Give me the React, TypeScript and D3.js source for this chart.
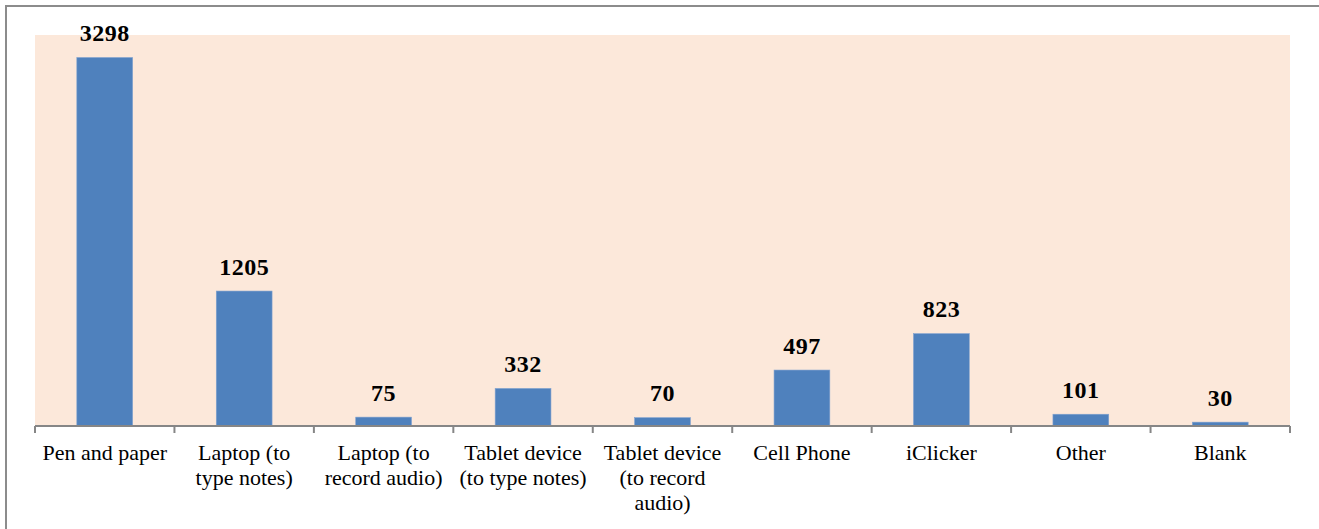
import React from "react";
import * as d3 from "d3";

const categories: string[][] = [
  ["Pen and paper"],
  ["Laptop (to", "type notes)"],
  ["Laptop (to", "record audio)"],
  ["Tablet device", "(to type notes)"],
  ["Tablet device", "(to record", "audio)"],
  ["Cell Phone"],
  ["iClicker"],
  ["Other"],
  ["Blank"],
];
const values: number[] = [3298, 1205, 75, 332, 70, 497, 823, 101, 30];
const yMax = 3500;

const W = 1319;
const H = 529;
const plot = { left: 35, right: 1290, top: 35, bottom: 425.5 };

export default function App() {
  const x = d3
    .scaleBand<number>()
    .domain(values.map((_, i) => i))
    .range([plot.left, plot.right])
    .paddingInner(0.6)
    .paddingOuter(0.3);
  const y = d3.scaleLinear().domain([0, yMax]).range([plot.bottom, plot.top]);
  const step = (plot.right - plot.left) / categories.length;
  const ticks = d3.range(categories.length + 1).map((i) => plot.left + i * step);
  const font = "'Liberation Serif', 'Times New Roman', serif";

  return (
    <div style={{ position: "absolute", left: 0, top: 0 }}>
      <svg width={W} height={H} style={{ display: "block" }}>
        <rect x={0} y={0} width={W} height={H} fill="#fff" />
        <rect x={6} y={6} width={W + 20} height={H + 20} fill="none" stroke="#8c8c8c" strokeWidth={2} />
        <rect x={plot.left} y={plot.top} width={plot.right - plot.left} height={plot.bottom - plot.top} fill="#fce8da" />
        {values.map((v, i) => (
          <g key={i}>
            <rect
              x={x(i)!}
              y={y(v)}
              width={x.bandwidth()}
              height={y(0) - y(v)}
              fill="#4f81bd"
              stroke="#7fa1cf"
              strokeWidth={0.6}
            />
            <text
              x={x(i)! + x.bandwidth() / 2}
              y={y(v) - 16.5}
              textAnchor="middle"
              fontFamily={font}
              fontWeight="bold"
              fontSize={24}
              letterSpacing={0.5}
              fill="#000"
            >
              {v}
            </text>
          </g>
        ))}
        <line x1={plot.left} x2={plot.right} y1={426} y2={426} stroke="#868686" strokeWidth={2} />
        {ticks.map((t, i) => (
          <line key={i} x1={t} x2={t} y1={426} y2={433} stroke="#868686" strokeWidth={2} />
        ))}
        {categories.map((lines, i) => (
          <text
            key={i}
            x={plot.left + (i + 0.5) * step}
            textAnchor="middle"
            fontFamily={font}
            fontSize={22}
            fill="#000"
          >
            {lines.map((l, j) => (
              <tspan key={j} x={plot.left + (i + 0.5) * step} y={460 + j * 25}>
                {l}
              </tspan>
            ))}
          </text>
        ))}
      </svg>
    </div>
  );
}
